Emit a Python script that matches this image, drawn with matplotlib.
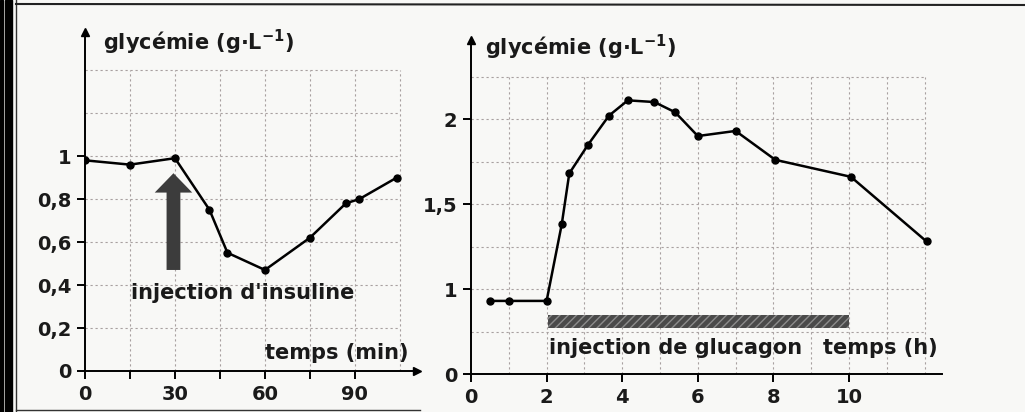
import matplotlib.pyplot as plt
from matplotlib.patches import Rectangle
import numpy as np

# insuline (minutes)
t_ins = [0, 15, 30, 41.5, 47.5, 60, 75, 87, 91.5, 104]
g_ins = [0.98, 0.96, 0.99, 0.75, 0.55, 0.47, 0.62, 0.78, 0.80, 0.90]

# glucagon (heures)
t_glu = [0.5, 1, 2, 2.4, 2.6, 3.1, 3.65, 4.15, 4.85, 5.4, 6.0, 7.0, 8.05, 10.05, 12.05]
g_glu = [0.93, 0.93, 0.93, 1.38, 1.68, 1.85, 2.02, 2.11, 2.10, 2.04, 1.90, 1.93, 1.76, 1.66, 1.28]

ins_yticks = [0, 0.2, 0.4, 0.6, 0.8, 1]
ins_ylabels = ['0', '0,2', '0,4', '0,6', '0,8', '1']
glu_yticks = [0.5, 1, 1.5, 2]
glu_ylabels = ['0', '1', '1,5', '2']

plt.rcParams['font.family'] = ['DejaVu Sans']
plt.rcParams['font.weight'] = 'bold'
plt.rcParams['mathtext.default'] = 'bf'
plt.rcParams['xtick.direction'] = 'out'
plt.rcParams['ytick.direction'] = 'out'

txt = '#1a1a1a'
bg = '#f8f8f6'
fig = plt.figure(figsize=(10.25, 4.12), dpi=100, facecolor=bg)

W, H = 1025, 412
ax1 = fig.add_axes([85 / W, 1 - 371 / H, 332 / W, 339 / H])
ax2 = fig.add_axes([471 / W, 1 - 374 / H, 471 / W, 334 / H])

grid_kw = dict(color='#a8a0a0', lw=0.8, linestyle=(0, (2, 2.5)), zorder=0)

for ax in (ax1, ax2):
    ax.set_facecolor('none')
    ax.spines['top'].set_visible(False)
    ax.spines['right'].set_visible(False)
    ax.spines['left'].set_linewidth(1.4)
    ax.spines['bottom'].set_linewidth(1.4)
    ax.tick_params(length=6, width=1.4, labelsize=14, pad=4, labelcolor=txt)
    ax.plot(1, 0, '>k', ms=6, transform=ax.get_yaxis_transform(), clip_on=False)
    ax.plot(0, 1, '^k', ms=6, transform=ax.get_xaxis_transform(), clip_on=False)

# ---- insuline ----
ax1.set_xlim(0, 110.7)
ax1.set_ylim(0, 1.577)
ax1.vlines(np.arange(15, 106, 15), 0, 1.4, **grid_kw)
ax1.hlines(np.arange(0.2, 1.41, 0.2), 0, 105, **grid_kw)
ax1.set_xticks(np.arange(0, 91, 15))
ax1.set_xticklabels(['0', '', '30', '', '60', '', '90'])
ax1.set_yticks(ins_yticks)
ax1.set_yticklabels(ins_ylabels)
ax1.plot(t_ins, g_ins, '-o', color='black', lw=1.8, ms=5, zorder=3)
ax1.arrow(29.5, 0.47, 0, 0.45, width=4.6, head_width=12.5, head_length=0.09,
          length_includes_head=True, color='#3c3c3c', lw=0, zorder=2)
ax1.text(52.5, 0.365, "injection d'insuline", fontsize=15, ha='center', va='center', color=txt)
ax1.text(107.7, 0.085, 'temps (min)', fontsize=15, ha='right', va='center', color=txt)
ax1.text(6, 1.53, 'glycémie (g·L$^{-1}$)', fontsize=15, ha='left', va='center', color=txt)

# ---- glucagon ----
ax2.set_xlim(0, 12.46)
ax2.set_ylim(0.5, 2.465)
ax2.vlines(np.arange(1, 13), 0.5, 2.25, **grid_kw)
ax2.hlines(np.arange(0.75, 2.26, 0.25), 0, 12, **grid_kw)
ax2.set_xticks(np.arange(0, 11, 2))
ax2.set_yticks(glu_yticks)
ax2.set_yticklabels(glu_ylabels)
ax2.add_patch(Rectangle((2.05, 0.77), 7.95, 0.08, facecolor='#4a4a4a',
                        edgecolor='#8c8c8c', hatch='////', lw=0, zorder=2))
ax2.plot(t_glu, g_glu, '-o', color='black', lw=1.8, ms=5, zorder=3)
ax2.text(5.4, 0.655, 'injection de glucagon', fontsize=15, ha='center', va='center', color=txt)
ax2.text(12.35, 0.655, 'temps (h)', fontsize=15, ha='right', va='center', color=txt)
ax2.text(0.37, 2.42, 'glycémie (g·L$^{-1}$)', fontsize=15, ha='left', va='center', color=txt)

# bordure du scan
fig.add_artist(Rectangle((0, 0), 3 / W, 1, transform=fig.transFigure, color='black'))
fig.add_artist(Rectangle((5 / W, 0), 7 / W, 1, transform=fig.transFigure, color='black'))
fig.add_artist(plt.Line2D([16 / W, 16 / W], [0, 1], transform=fig.transFigure, color='#333333', lw=1))
fig.add_artist(plt.Line2D([16 / W, 1], [1 - 4 / H, 1 - 5 / H], transform=fig.transFigure, color='#222222', lw=1.5))
fig.add_artist(plt.Line2D([16 / W, 420 / W], [1 - 410 / H, 1 - 410 / H], transform=fig.transFigure, color='#333333', lw=1))

fig.savefig('out.png', dpi=100, facecolor=bg)
